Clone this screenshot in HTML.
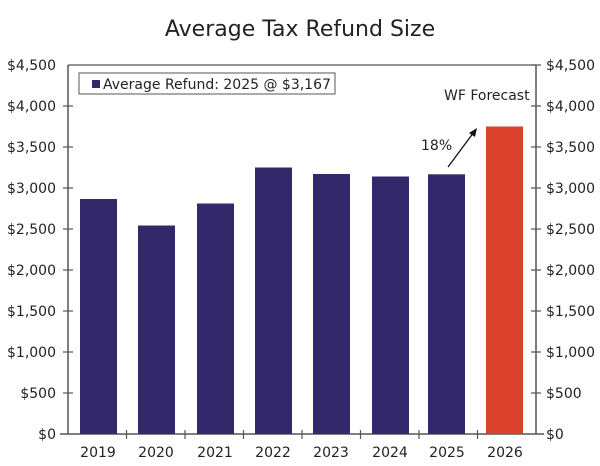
<!DOCTYPE html>
<html><head><style>
body{margin:0;background:#fff;}
svg text{font-family:"DejaVu Sans","Liberation Sans",sans-serif;fill:#222;}
</style></head><body>
<svg width="600" height="461" viewBox="0 0 600 461" xmlns="http://www.w3.org/2000/svg">
<text x="300" y="36" font-size="22" text-anchor="middle">Average Tax Refund Size</text>
<line x1="68" y1="65" x2="536" y2="65" stroke="#555" stroke-width="1.2"/>
<line x1="68" y1="65" x2="68" y2="434" stroke="#555" stroke-width="1.5"/>
<line x1="536" y1="65" x2="536" y2="434" stroke="#555" stroke-width="1.5"/>
<line x1="60" y1="434" x2="544" y2="434" stroke="#555" stroke-width="1.5"/>
<g stroke="#555" stroke-width="1.2">
<line x1="63" y1="106" x2="73" y2="106"/><line x1="63" y1="147" x2="73" y2="147"/><line x1="63" y1="188" x2="73" y2="188"/><line x1="63" y1="229" x2="73" y2="229"/><line x1="63" y1="270" x2="73" y2="270"/><line x1="63" y1="311" x2="73" y2="311"/><line x1="63" y1="352" x2="73" y2="352"/><line x1="63" y1="393" x2="73" y2="393"/>
<line x1="531" y1="65" x2="541" y2="65"/><line x1="531" y1="106" x2="541" y2="106"/><line x1="531" y1="147" x2="541" y2="147"/><line x1="531" y1="188" x2="541" y2="188"/><line x1="531" y1="229" x2="541" y2="229"/><line x1="531" y1="270" x2="541" y2="270"/><line x1="531" y1="311" x2="541" y2="311"/><line x1="531" y1="352" x2="541" y2="352"/><line x1="531" y1="393" x2="541" y2="393"/>
<line x1="126.5" y1="430" x2="126.5" y2="439"/><line x1="185" y1="430" x2="185" y2="439"/><line x1="243.5" y1="430" x2="243.5" y2="439"/><line x1="302" y1="430" x2="302" y2="439"/><line x1="360.5" y1="430" x2="360.5" y2="439"/><line x1="419" y1="430" x2="419" y2="439"/><line x1="477.5" y1="430" x2="477.5" y2="439"/>
</g>
<g font-size="14" text-anchor="end">
<text x="56" y="70">$4,500</text><text x="56" y="111">$4,000</text><text x="56" y="152">$3,500</text><text x="56" y="193">$3,000</text><text x="56" y="234">$2,500</text><text x="56" y="275">$2,000</text><text x="56" y="316">$1,500</text><text x="56" y="357">$1,000</text><text x="56" y="398">$500</text><text x="56" y="439">$0</text>
</g>
<g font-size="14" text-anchor="start">
<text x="546" y="70">$4,500</text><text x="546" y="111">$4,000</text><text x="546" y="152">$3,500</text><text x="546" y="193">$3,000</text><text x="546" y="234">$2,500</text><text x="546" y="275">$2,000</text><text x="546" y="316">$1,500</text><text x="546" y="357">$1,000</text><text x="546" y="398">$500</text><text x="546" y="439">$0</text>
</g>
<g fill="#33296a">
<rect x="80" y="199" width="37" height="235"/>
<rect x="138" y="225.5" width="37" height="208.5"/>
<rect x="197" y="203.5" width="37" height="230.5"/>
<rect x="255" y="167.5" width="37" height="266.5"/>
<rect x="313" y="174" width="37" height="260"/>
<rect x="372" y="176.5" width="37" height="257.5"/>
<rect x="428" y="174.3" width="37" height="259.7"/>
</g>
<rect x="486" y="126.5" width="37" height="307.5" fill="#d9412a"/>
<g font-size="14" text-anchor="middle">
<text x="98" y="457">2019</text><text x="156" y="457">2020</text><text x="215" y="457">2021</text><text x="273" y="457">2022</text><text x="331" y="457">2023</text><text x="390" y="457">2024</text><text x="447" y="457">2025</text><text x="505" y="457">2026</text>
</g>
<rect x="79" y="73" width="256" height="21" fill="#fff" stroke="#555" stroke-width="1"/>
<rect x="92" y="80" width="8" height="8" fill="#33296a"/>
<text x="103" y="89" font-size="14">Average Refund: 2025 @ $3,167</text>
<text x="444" y="100" font-size="14">WF Forecast</text>
<text x="421" y="150" font-size="14">18%</text>
<line x1="448" y1="167" x2="474" y2="132" stroke="#111" stroke-width="1.3"/>
<polygon points="477,128 469,133 475,137" fill="#111"/>
</svg>
</body></html>
